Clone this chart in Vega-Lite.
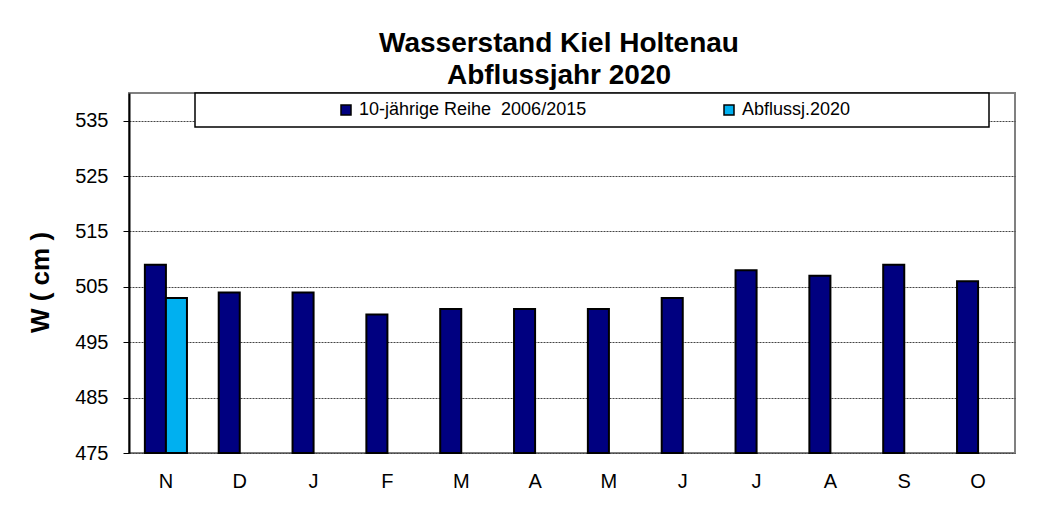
{
  "$schema": "https://vega.github.io/schema/vega-lite/v6.json",
  "width": 886,
  "height": 360,
  "autosize": {"type": "pad"},
  "padding": {"left": 27, "top": 30, "right": 31, "bottom": 10},
  "background": "white",
  "title": {
    "text": ["Wasserstand Kiel Holtenau", "Abflussjahr 2020"],
    "font": "Liberation Sans",
    "fontSize": 28,
    "fontWeight": "bold",
    "color": "black",
    "lineHeight": 32,
    "anchor": "middle",
    "dx": -13,
    "offset": 2
  },
  "data": {
    "values": [
      {"Monat": "Nov", "Reihe": "10-jährige Reihe\u00a0 2006/2015", "W": 509},
      {"Monat": "Nov", "Reihe": "Abflussj.2020", "W": 503},
      {"Monat": "Dez", "Reihe": "10-jährige Reihe\u00a0 2006/2015", "W": 504},
      {"Monat": "Jan", "Reihe": "10-jährige Reihe\u00a0 2006/2015", "W": 504},
      {"Monat": "Feb", "Reihe": "10-jährige Reihe\u00a0 2006/2015", "W": 500},
      {"Monat": "Mär", "Reihe": "10-jährige Reihe\u00a0 2006/2015", "W": 501},
      {"Monat": "Apr", "Reihe": "10-jährige Reihe\u00a0 2006/2015", "W": 501},
      {"Monat": "Mai", "Reihe": "10-jährige Reihe\u00a0 2006/2015", "W": 501},
      {"Monat": "Jun", "Reihe": "10-jährige Reihe\u00a0 2006/2015", "W": 503},
      {"Monat": "Jul", "Reihe": "10-jährige Reihe\u00a0 2006/2015", "W": 508},
      {"Monat": "Aug", "Reihe": "10-jährige Reihe\u00a0 2006/2015", "W": 507},
      {"Monat": "Sep", "Reihe": "10-jährige Reihe\u00a0 2006/2015", "W": 509},
      {"Monat": "Okt", "Reihe": "10-jährige Reihe\u00a0 2006/2015", "W": 506}
    ]
  },
  "mark": {"type": "bar", "stroke": "black", "strokeWidth": 2},
  "encoding": {
    "x": {
      "field": "Monat",
      "type": "nominal",
      "sort": ["Nov", "Dez", "Jan", "Feb", "Mär", "Apr", "Mai", "Jun", "Jul", "Aug", "Sep", "Okt"],
      "scale": {"paddingInner": 0.43, "paddingOuter": 0.215},
      "axis": {
        "title": null,
        "labelAngle": 0,
        "labelExpr": "substring(datum.label, 0, 1)",
        "labelFont": "Liberation Sans",
        "labelFontSize": 20,
        "labelColor": "black",
        "labelPadding": 18,
        "ticks": false,
        "domain": false,
        "grid": false
      }
    },
    "xOffset": {
      "field": "Reihe",
      "type": "nominal",
      "sort": ["10-jährige Reihe\u00a0 2006/2015", "Abflussj.2020"]
    },
    "y": {
      "field": "W",
      "type": "quantitative",
      "scale": {"domain": [475, 540], "zero": false, "nice": false},
      "axis": {
        "values": [475, 485, 495, 505, 515, 525, 535],
        "title": "W ( cm )",
        "titleFont": "Liberation Sans",
        "titleFontSize": 26,
        "titleFontWeight": "bold",
        "titleColor": "black",
        "titlePadding": 21,
        "titleY": 189,
        "labelFont": "Liberation Sans",
        "labelFontSize": 20,
        "labelColor": "black",
        "labelPadding": 15,
        "tickSize": 6,
        "tickColor": "black",
        "domainColor": "black",
        "domainWidth": 2,
        "gridColor": "#444444",
        "gridDash": [2, 1],
        "gridWidth": 1
      }
    },
    "y2": {"datum": 475},
    "color": {
      "field": "Reihe",
      "type": "nominal",
      "scale": {
        "domain": ["10-jährige Reihe\u00a0 2006/2015", "Abflussj.2020"],
        "range": ["#000080", "#00B0F0"]
      },
      "legend": {
        "orient": "none",
        "legendX": 66,
        "legendY": 0,
        "direction": "horizontal",
        "title": "\u00a0",
        "titleOrient": "left",
        "titlePadding": 134,
        "titleFontSize": 18,
        "fillColor": "white",
        "strokeColor": "black",
        "padding": 8,
        "columnPadding": 133,
        "symbolType": "square",
        "symbolSize": 100,
        "symbolStrokeColor": "black",
        "symbolStrokeWidth": 1.5,
        "symbolOpacity": 1,
        "labelFont": "Liberation Sans",
        "labelFontSize": 18,
        "labelColor": "black",
        "labelOffset": 4,
        "labelLimit": 500,
        "labelExpr": "datum.label == 'Abflussj.2020' ? datum.label + '\u2800\u2800\u2800\u2800\u2800\u2800\u2800\u2800\u2800\u2800' : datum.label"
      }
    }
  },
  "config": {
    "view": {"stroke": "#808080", "strokeWidth": 2},
    "legend": {"strokeWidth": 1.5}
  }
}
